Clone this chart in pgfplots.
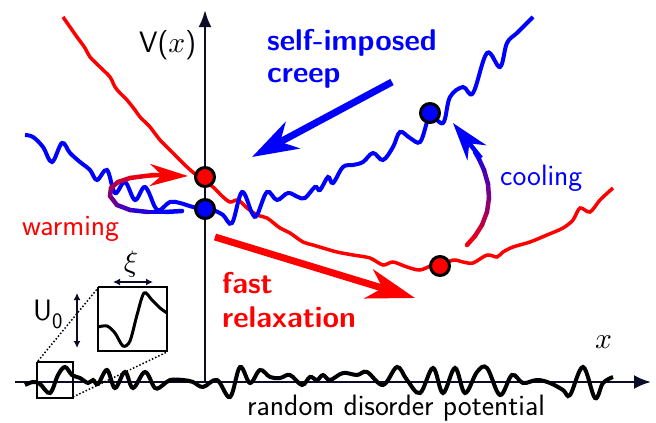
\documentclass[border=0pt]{standalone}
\usepackage{pgfplots}
\pgfplotsset{compat=1.18}
\usetikzlibrary{arrows.meta}
% let the math italic scale freely
\DeclareFontShape{OML}{cmm}{m}{it}{<->cmmi10}{}
\definecolor{axcol}{RGB}{12,12,40}
\definecolor{myred}{RGB}{255,0,0}
\definecolor{myblue}{RGB}{0,0,255}
\newcommand{\lab}{\sffamily\fontsize{29.5}{32}\selectfont}
\newcommand{\blab}{\sffamily\bfseries\fontsize{30}{33}\selectfont}
\begin{document}
\begin{tikzpicture}
\useasboundingbox (0,0) rectangle (656pt,423pt);
\begin{axis}[
  scale only axis, width=656pt, height=423pt,
  xmin=0, xmax=656, ymin=0, ymax=423, y dir=reverse,
  hide axis, clip=false,
  colormap={rb}{color=(myred) color=(myblue)},
  point meta min=0, point meta max=1,
]
% axes
\addplot[axcol, line width=2.5pt, -{Latex[length=17pt,width=13pt]}] coordinates {(205,383) (205,10)};
\addplot[axcol, line width=2.5pt, -{Latex[length=17pt,width=14pt]}] coordinates {(15,382) (651,382)};

% random disorder potential
\addplot[black, line width=4pt, smooth, tension=0.6] coordinates {
(25,385) (33,382) (40,384) (50,393) (58,375) (65,367) (72,375) (80,378) (88,383) (93,380) (98,384)
(107,370) (115,388) (125,372) (133,388) (145,372) (155,388) (163,385) (170,380) (183,380) (193,382)
(203,387) (217,380) (230,397) (240,367) (250,383) (260,370) (270,377) (280,378) (290,375) (302,385)
(310,377) (317,380) (323,375) (330,380) (343,373) (357,375) (367,372) (383,385) (397,367) (407,380)
(420,393) (433,368) (443,393) (455,368) (465,393) (477,372) (487,368) (500,395) (512,375) (523,383)
(537,380) (550,383) (563,390) (570,395) (583,367) (595,398) (603,383) (613,377)};

% zoom boxes and inset
\addplot[black, line width=1.3pt] coordinates {(37,362) (73,362) (73,398) (37,398) (37,362)};
\addplot[black, line width=2pt] coordinates {(98,287) (167,287) (167,351) (98,351) (98,287)};
\addplot[black, line width=1.5pt, dotted] coordinates {(38,361) (98,288)};
\addplot[black, line width=1.5pt, dotted] coordinates {(73,397) (167,352)};
\addplot[black, line width=3pt, smooth] coordinates {
(98,327) (107,326) (115,333) (123,346) (130,341) (137,315) (144,293) (152,300) (160,308) (167,313)};
\addplot[axcol, line width=1.5pt, {Latex[length=7pt,width=7pt]}-{Latex[length=7pt,width=7pt]}] coordinates {(113,282) (153,282)};
\addplot[axcol, line width=1.5pt, {Latex[length=7pt,width=7pt]}-{Latex[length=7pt,width=7pt]}] coordinates {(77,293) (77,348)};

% red potential
\addplot[myred, line width=3.5pt, smooth, tension=0.5] coordinates {
(63,17) (70,27) (77,37) (85,48) (90,57) (100,67) (110,77) (115,87) (120,93) (127,100) (135,110)
(140,117) (150,127) (160,140) (173,153) (187,167) (200,178) (213,187) (222,196) (230,202) (238,200)
(247,208) (257,215) (267,218) (280,228) (290,233) (303,242) (313,245) (323,248) (337,252) (353,255)
(370,258) (383,265) (393,262) (407,267) (420,270) (433,265) (440,266) (453,260) (463,262) (473,263)
(487,255) (497,257) (503,252) (513,247) (530,242) (547,235) (563,228) (573,220) (580,208) (590,212)
(600,200) (613,188)};

% blue potential
\addplot[myblue, line width=4pt, smooth, tension=0.6] coordinates {
(25,135) (33,137) (43,147) (52,162) (62,143) (70,153) (80,162) (90,170) (97,180) (107,170) (115,193)
(125,182) (135,200) (145,187) (155,207) (160,210) (170,202) (180,203) (193,207) (205,209) (213,210)
(223,215) (232,223) (242,192) (252,213) (257,215) (267,192) (277,200) (288,193) (298,197) (305,198)
(315,187) (320,190) (328,177) (333,183) (343,167) (353,165) (363,162) (373,153) (383,160) (393,147)
(400,132) (410,138) (420,142) (427,122) (430,113) (443,123) (450,97) (463,87) (473,93) (487,53)
(500,67) (507,43) (517,33) (530,20) (533,17)};

% warming arrow (blue -> red)
\addplot[mesh, line width=4.5pt, line cap=round, point meta=explicit] coordinates {
(182,211) [1] (165,212) [1] (148,212) [0.9] (130,210) [0.78] (117,205) [0.65] (110,196) [0.52]
(111,188) [0.4] (118,182) [0.28] (130,178) [0.15] (145,176) [0.05] (155,175) [0]};
\addplot[myred, line width=4.5pt, -{Stealth[length=38pt,width=22pt,inset=12pt]}] coordinates {(150,175) (188,176)};

% cooling arrow (red -> blue)
\addplot[mesh, line width=4.5pt, line cap=round, point meta=explicit] coordinates {
(467,245) [0] (475,236) [0.1] (482,225) [0.22] (487,212) [0.35] (489,198) [0.48] (488,184) [0.6]
(484,170) [0.72] (479,159) [0.85] (475,152) [0.95]};
\addplot[myblue, line width=4.5pt, -{Stealth[length=38pt,width=24pt,inset=12pt]}] coordinates {(481,158) (453,123)};

% big arrows
\addplot[myblue, line width=7pt, -{Stealth[length=46pt,width=30pt,inset=14pt]}] coordinates {(392,82) (252,157)};
\addplot[myred, line width=7pt, -{Stealth[length=48pt,width=30pt,inset=14pt]}] coordinates {(215,237) (415,298)};

% states
\addplot[only marks, mark=*, mark size=9.5pt, mark options={fill=myred, draw=black, line width=3pt}] coordinates {(205,177) (440,266)};
\addplot[only marks, mark=*, mark size=9.5pt, mark options={fill=myblue, draw=black, line width=3pt}] coordinates {(205,209) (430,113)};

% labels
\node[anchor=base west, font=\lab, inner sep=0pt] at (139,52) {V($x$)};
\node[anchor=base west, font=\lab, inner sep=0pt] at (595,348) {$x$};
\node[anchor=base west, font=\blab, text=myblue, inner sep=0pt] at (267,50) {self-imposed};
\node[anchor=base west, font=\blab, text=myblue, inner sep=0pt] at (267,82) {creep};
\node[anchor=base west, font=\blab, text=myred, inner sep=0pt] at (222,293) {fast};
\node[anchor=base west, font=\blab, text=myred, inner sep=0pt] at (222,327) {relaxation};
\node[anchor=base west, font=\lab, text=myred, inner sep=0pt] at (22,235) {warming};
\node[anchor=base west, font=\lab, text=myblue, inner sep=0pt] at (500,185) {cooling};
\node[anchor=base west, font=\lab, inner sep=0pt] at (247,415.5) {random disorder potential};
\node[anchor=base west, font=\lab, inner sep=0pt] at (33,320) {U\raisebox{-0.3em}{\fontsize{22}{22}\selectfont 0}};
\node[anchor=center, font=\lab, inner sep=0pt] at (131,264) {$\xi$};
\end{axis}
\end{tikzpicture}
\end{document}
